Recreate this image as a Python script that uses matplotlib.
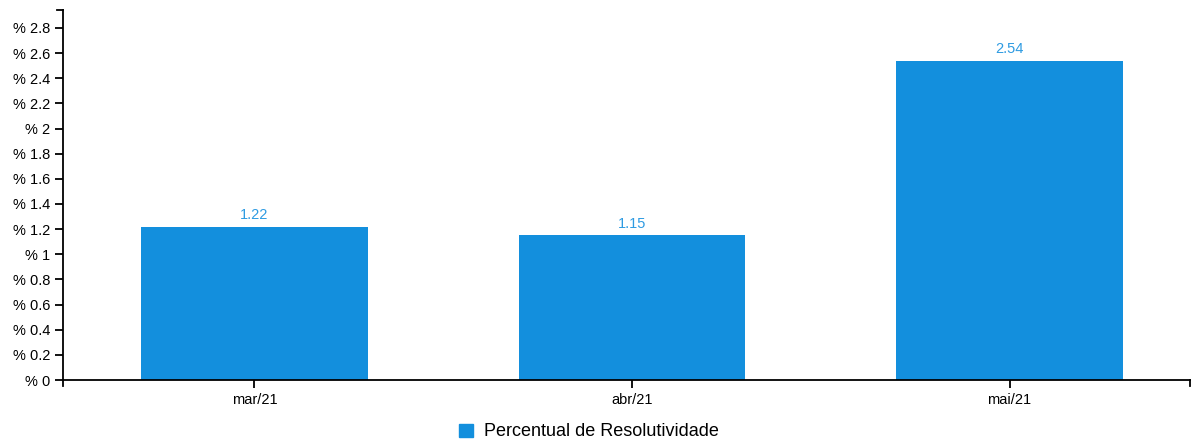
import matplotlib.pyplot as plt
from matplotlib.patches import Patch

plt.rcParams['font.family'] = ['Liberation Sans', 'DejaVu Sans']

meses = ["mar/21", "abr/21", "mai/21"]
percentual = [1.22, 1.15, 2.54]
yticks = [0, 0.2, 0.4, 0.6, 0.8, 1, 1.2, 1.4, 1.6, 1.8, 2, 2.2, 2.4, 2.6, 2.8]

cor = "#138fdd"

fig = plt.figure(figsize=(11.97, 4.45), dpi=100)
ax = fig.add_axes([63 / 1197, 65 / 445, 1127 / 1197, 370 / 445])

pos = list(range(len(meses)))
ax.bar(pos, percentual, width=0.6, color=cor, zorder=2)
for x, v in zip(pos, percentual):
    ax.annotate(f"{v:.2f}", (x, v), xytext=(0, 3), textcoords="offset points",
                ha="center", va="bottom", fontsize=10.5, color="#2e9be2")

x0, x1 = -0.507, 2.478
y1 = 2.943
ax.set_xlim(x0, x1)
ax.set_ylim(0, y1)
ax.set_xticks(pos)
ax.set_xticklabels(meses)
ax.set_yticks(yticks)
ax.set_yticklabels([f"% {t:g}" for t in yticks])
ax.tick_params(axis="both", length=6, width=1.3, labelsize=10.5, colors="black", pad=3)

for s in ["top", "right"]:
    ax.spines[s].set_visible(False)
for s in ["left", "bottom"]:
    ax.spines[s].set_linewidth(1.3)

# outer ticks at the ends of each axis line
px_x = (x1 - x0) / 1127
px_y = y1 / 370
ax.plot([x0, x0], [0, -6 * px_y], color="black", lw=1.3, clip_on=False)
ax.plot([x1, x1], [0, -6 * px_y], color="black", lw=1.3, clip_on=False)
ax.plot([x0, x0 - 6 * px_x], [y1, y1], color="black", lw=1.3, clip_on=False)

fig.legend(handles=[Patch(color=cor, label="Percentual de Resolutividade")],
           loc="center", bbox_to_anchor=(589 / 1197, 1 - 432 / 445), frameon=False,
           fontsize=13, handlelength=0.75, handleheight=0.75, handletextpad=0.6)

fig.savefig("out.png", dpi=100)
